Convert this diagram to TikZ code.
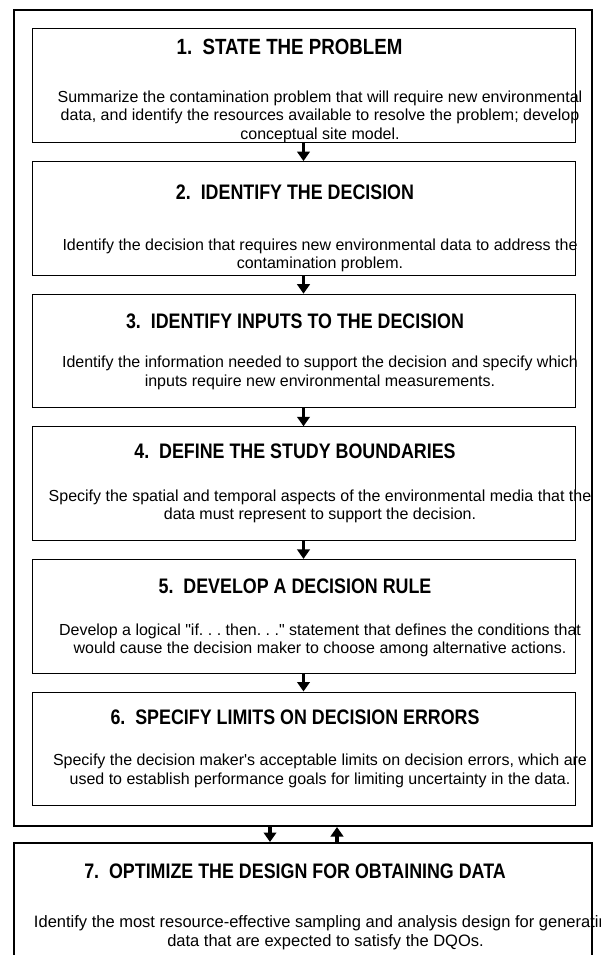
\documentclass[tikz,border=0pt]{standalone}
\usepackage{fontspec}
\setmainfont{Liberation Sans}
\newfontfamily\headfont{Liberation Sans}[FakeStretch=0.85]
\usetikzlibrary{arrows.meta}
\frenchspacing

\begin{document}
\begin{tikzpicture}[x=1pt,y=-1pt,
  stepbox/.style={draw=black, line width=1pt, minimum width=543pt,
    minimum height=113.6pt, inner sep=0pt}]
\tikzset{frame/.style = {draw=black, line width=2pt, minimum width=578pt, inner sep=0pt}}
\tikzset{steptitle/.style = {font=\headfont\bfseries\fontsize{21}{24}\selectfont, inner sep=0pt}}
\tikzset{steptext/.style = {font=\fontsize{16}{18.5}\selectfont, align=center, inner sep=0pt}}
\tikzset{edge/.style = {-{Triangle[width=12.5pt,length=9.5pt]}, line width=3.2pt}}
\useasboundingbox (0,0) rectangle (600,955);
\clip (0,0) rectangle (600,955);
% outer loop frame
\node[frame, minimum height=816pt] (outer) at (303,418) {};
% steps 1-6
\node[stepbox] (s1) at (303.5,85.8) {};
\node[stepbox] (s2) at (303.5,218.4) {};
\node[stepbox] (s3) at (303.5,351.0) {};
\node[stepbox] (s4) at (303.5,483.6) {};
\node[stepbox] (s5) at (303.5,616.2) {};
\node[stepbox] (s6) at (303.5,748.8) {};
% step 7
\node[frame, minimum height=120pt] (s7) at (303,903) {};

\node[steptitle, font=\headfont\bfseries\fontsize{22}{25}\selectfont] (t1) at ([xshift=-14pt,yshift=-18pt]s1.north) {1.\ \ STATE THE PROBLEM};
\node[steptext] (d1) at ([xshift=16.5pt,yshift=-31pt]s1.center) {Summarize the contamination problem that will require new environmental\\ data, and identify the resources available to resolve the problem; develop\\ conceptual site model.};

\node[steptitle] (t2) at ([xshift=-8.5pt,yshift=-31pt]s2.north) {2.\ \ IDENTIFY THE DECISION};
\node[steptext] (d2) at ([xshift=16.5pt,yshift=-37pt]s2.center) {Identify the decision that requires new environmental data to address the\\ contamination problem.};

\node[steptitle] (t3) at ([xshift=-8.5pt,yshift=-28pt]s3.north) {3.\ \ IDENTIFY INPUTS TO THE DECISION};
\node[steptext] (d3) at ([xshift=16.5pt,yshift=-22pt]s3.center) {Identify the information needed to support the decision and specify which\\ inputs require new environmental measurements.};

\node[steptitle] (t4) at ([xshift=-8.5pt,yshift=-25pt]s4.north) {4.\ \ DEFINE THE STUDY BOUNDARIES};
\node[steptext] (d4) at ([xshift=16.5pt,yshift=-23pt]s4.center) {Specify the spatial and temporal aspects of the environmental media that the\\ data must represent to support the decision.};

\node[steptitle] (t5) at ([xshift=-8.5pt,yshift=-27pt]s5.north) {5.\ \ DEVELOP A DECISION RULE};
\node[steptext] (d5) at ([xshift=16.5pt,yshift=-24pt]s5.center) {Develop a logical \textquotedbl if. . . then. . .\textquotedbl\ statement that defines the conditions that\\ would cause the decision maker to choose among alternative actions.};

\node[steptitle] (t6) at ([xshift=-8.5pt,yshift=-26pt]s6.north) {6.\ \ SPECIFY LIMITS ON DECISION ERRORS};
\node[steptext] (d6) at ([xshift=16.5pt,yshift=-22pt]s6.center) {Specify the decision maker\textquotesingle s acceptable limits on decision errors, which are\\ used to establish performance goals for limiting uncertainty in the data.};

\node[steptitle] (t7) at ([xshift=-8pt,yshift=-29pt]s7.north) {7.\ \ OPTIMIZE THE DESIGN FOR OBTAINING DATA};
\node[steptext, font=\fontsize{16.5}{19}\selectfont] (d7) at ([xshift=22.5pt,yshift=-29.5pt]s7.center) {Identify the most resource-effective sampling and analysis design for generating\\ data that are expected to satisfy the DQOs.};

\draw[edge] (s1) -- (s2);
\draw[edge] (s2) -- (s3);
\draw[edge] (s3) -- (s4);
\draw[edge] (s4) -- (s5);
\draw[edge] (s5) -- (s6);
\draw[edge] ([xshift=-33pt]outer.south) -- ([xshift=-33pt]s7.north);
\draw[edge] ([xshift=34pt]s7.north) -- ([xshift=34pt]outer.south);
\end{tikzpicture}
\end{document}
